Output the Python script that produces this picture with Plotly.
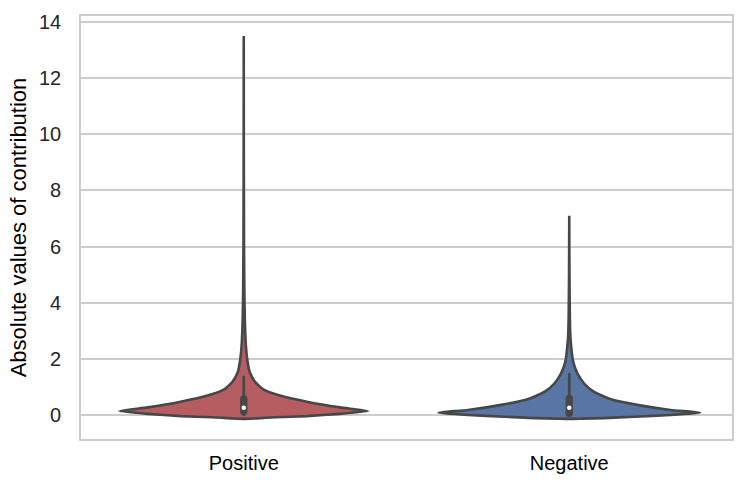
import plotly.graph_objects as go

# catégories et positions sur l'axe x
categories = ["Positive", "Negative"]
positions = [0, 1]
fill_colors = ["#B55D60", "#5875A3"]

# profil des violons : valeur -> demi-largeur (unités de catégorie)
pos_values = [-0.14, -0.12, -0.10, -0.08, -0.04, 0.04, 0.14, 0.27, 0.47, 0.69, 0.91,
              1.19, 1.54, 1.96, 2.43, 2.91, 3.5, 4.5, 6.0, 9.0, 13.5]
pos_halfwidth = [0.0, 0.037, 0.068, 0.098, 0.194, 0.295, 0.382, 0.295, 0.194, 0.111, 0.060,
                 0.034, 0.018, 0.011, 0.0068, 0.0046, 0.0031, 0.0018, 0.0009, 0.0003, 0.0]

neg_values = [-0.14, -0.13, -0.11, -0.06, 0.0, 0.08, 0.18, 0.36, 0.57, 0.83, 1.13,
              1.48, 1.9, 2.43, 2.91, 3.5, 5.0, 7.1]
neg_halfwidth = [0.0, 0.037, 0.108, 0.2, 0.311, 0.402, 0.311, 0.209, 0.126, 0.075, 0.045,
                 0.025, 0.012, 0.006, 0.003, 0.0018, 0.0006, 0.0]

# boîtes intérieures
whisker_lo = [0.0, 0.0]
q1 = [0.125, 0.06]
median = [0.26, 0.26]
q3 = [0.57, 0.59]
whisker_hi = [1.36, 1.46]

outline = "#474747"
profiles = [(pos_values, pos_halfwidth), (neg_values, neg_halfwidth)]

fig = go.Figure()

for i, (vals, hw) in enumerate(profiles):
    c = positions[i]
    xs = [c + w for w in hw] + [c - w for w in reversed(hw)]
    ys = list(vals) + list(reversed(vals))
    fig.add_trace(go.Scatter(x=xs, y=ys, mode="lines", fill="toself",
                             fillcolor=fill_colors[i],
                             line=dict(color=outline, width=2.6, shape="spline", smoothing=0.5),
                             hoverinfo="skip", showlegend=False))
    # moustache
    fig.add_trace(go.Scatter(x=[c, c], y=[whisker_lo[i], whisker_hi[i]], mode="lines+markers",
                             line=dict(color=outline, width=2.7),
                             marker=dict(color=outline, size=2.7), showlegend=False))
    # boîte (q1-q3)
    fig.add_trace(go.Scatter(x=[c, c], y=[q1[i], q3[i]], mode="lines+markers",
                             line=dict(color=outline, width=7.3),
                             marker=dict(color=outline, size=7.3), showlegend=False))
    # médiane
    fig.add_trace(go.Scatter(x=[c], y=[median[i]], mode="markers",
                             marker=dict(color="white", size=4.5), showlegend=False))

fig.update_layout(
    width=747, height=494,
    margin=dict(l=81, r=15, t=16, b=55),
    plot_bgcolor="white", paper_bgcolor="white",
    font=dict(family="Liberation Sans, Arial", size=20, color="#262626"),
)
fig.update_xaxes(range=[-0.5, 1.5], tickvals=positions, ticktext=categories,
                 showgrid=False, zeroline=False, showline=True, mirror=True,
                 linecolor="#CCCCCC", linewidth=1.6, ticks="",
                 tickfont=dict(color="black", size=20), ticklabelstandoff=5)
fig.update_yaxes(range=[-0.855, 14.21], tickvals=[0, 2, 4, 6, 8, 10, 12, 14],
                 showgrid=True, gridcolor="#CCCCCC", gridwidth=1.6, zeroline=False,
                 showline=True, mirror=True, linecolor="#CCCCCC", linewidth=1.6, ticks="",
                 ticklabelstandoff=14,
                 title=dict(text="Absolute values of contribution",
                            font=dict(size=22, color="black"), standoff=6))

# pas de marge autour du graphique dans la page
fig.write_html("out.html", config={"displayModeBar": False},
               post_script="document.body.style.margin = '0';")
